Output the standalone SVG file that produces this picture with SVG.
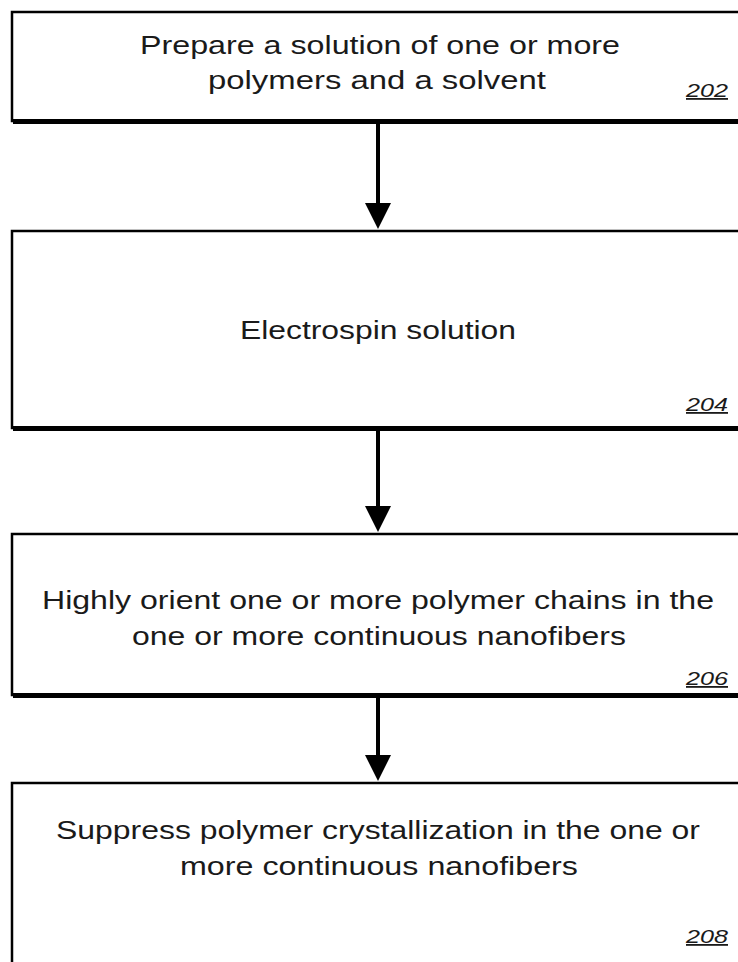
<svg xmlns="http://www.w3.org/2000/svg" width="738" height="962" viewBox="0 0 738 962">
  <defs>
    <style>
      .box { fill: #ffffff; stroke: #000000; stroke-width: 2.5; }
      .shadow { stroke: #000000; stroke-width: 5; fill: none; }
      .txt { font-family: "Liberation Sans", Arial, sans-serif; font-size: 25px; fill: #1a1a1a; text-anchor: middle; }
      .ref { font-family: "Liberation Sans", Arial, sans-serif; font-size: 18px; font-style: italic; fill: #1a1a1a; text-anchor: end; text-decoration: underline; }
      .link { stroke: #000000; stroke-width: 4; fill: none; }
      .head { fill: #000000; }
    </style>
  </defs>

  <!-- connectors between steps -->
  <g id="connectors">
    <line class="link" x1="378" y1="124" x2="378" y2="203"/>
    <path class="head" d="M365,203 L391,203 L378,229 Z"/>
    <line class="link" x1="378" y1="431" x2="378" y2="506"/>
    <path class="head" d="M365,506 L391,506 L378,532 Z"/>
    <line class="link" x1="378" y1="698" x2="378" y2="755"/>
    <path class="head" d="M365,755 L391,755 L378,781 Z"/>
  </g>

  <!-- step 202 -->
  <g id="step202">
    <rect class="box" x="12" y="12" width="740" height="109"/>
    <line class="shadow" x1="13" y1="121.5" x2="752" y2="121.5"/>
    <text class="txt" x="380" y="54" textLength="480" lengthAdjust="spacingAndGlyphs">Prepare a solution of one or more</text>
    <text class="txt" x="377" y="89" textLength="338" lengthAdjust="spacingAndGlyphs">polymers and a solvent</text>
    <text class="ref" x="728" y="97" textLength="42" lengthAdjust="spacingAndGlyphs">202</text>
  </g>

  <!-- step 204 -->
  <g id="step204">
    <rect class="box" x="12" y="231" width="740" height="197"/>
    <line class="shadow" x1="13" y1="428.5" x2="752" y2="428.5"/>
    <text class="txt" x="378" y="339" textLength="276" lengthAdjust="spacingAndGlyphs">Electrospin solution</text>
    <text class="ref" x="728" y="411" textLength="42" lengthAdjust="spacingAndGlyphs">204</text>
  </g>

  <!-- step 206 -->
  <g id="step206">
    <rect class="box" x="12" y="534" width="740" height="161"/>
    <line class="shadow" x1="13" y1="695.5" x2="752" y2="695.5"/>
    <text class="txt" x="378" y="609" textLength="672" lengthAdjust="spacingAndGlyphs">Highly orient one or more polymer chains in the</text>
    <text class="txt" x="379" y="645" textLength="494" lengthAdjust="spacingAndGlyphs">one or more continuous nanofibers</text>
    <text class="ref" x="728" y="685" textLength="42" lengthAdjust="spacingAndGlyphs">206</text>
  </g>

  <!-- step 208 -->
  <g id="step208">
    <rect class="box" x="12" y="783" width="740" height="190"/>
    <text class="txt" x="378" y="839" textLength="644" lengthAdjust="spacingAndGlyphs">Suppress polymer crystallization in the one or</text>
    <text class="txt" x="379" y="875" textLength="398" lengthAdjust="spacingAndGlyphs">more continuous nanofibers</text>
    <text class="ref" x="728" y="943" textLength="42" lengthAdjust="spacingAndGlyphs">208</text>
  </g>
</svg>
